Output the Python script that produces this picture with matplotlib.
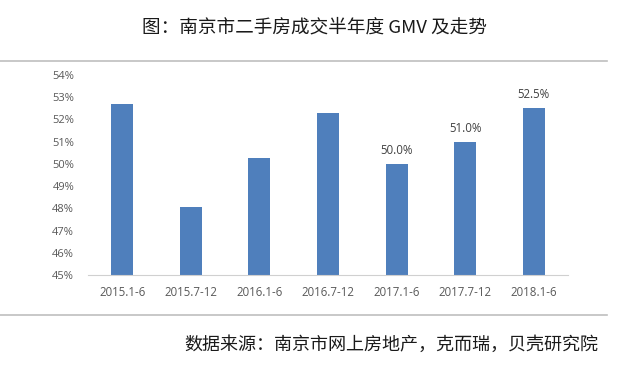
import matplotlib
matplotlib.use('Agg')
import matplotlib.pyplot as plt
from matplotlib.lines import Line2D

plt.rcParams['font.family'] = ['Noto Sans CJK SC', 'DejaVu Sans']

periods = ['2015.1-6', '2015.7-12', '2016.1-6', '2016.7-12', '2017.1-6', '2017.7-12', '2018.1-6']
share = [52.7, 48.05, 50.27, 52.3, 50.0, 51.0, 52.5]
labelled = [False, False, False, False, True, True, True]
yticks = list(range(45, 55))

num_font = ['Open Sans', 'DejaVu Sans']

fig = plt.figure(figsize=(6.25, 3.71), dpi=100)
ax = fig.add_axes([0.1408, 0.2588, 0.768, 0.539])

x = range(len(periods))
ax.bar(x, share, width=0.32, bottom=0, color='#4f7fbc', zorder=2)
ax.set_xlim(-0.5, len(periods) - 0.5)
ax.set_ylim(45, 54)
ax.set_yticks(yticks)
ax.set_yticklabels(['%d%%' % v for v in yticks], family=num_font)
ax.set_xticks(list(x))
ax.set_xticklabels(periods, family=num_font)
ax.tick_params(axis='both', length=0, colors='#595959')
ax.tick_params(axis='x', pad=8, labelsize=8.3)
ax.tick_params(axis='y', pad=10, labelsize=8)
for s in ['top', 'right', 'left']:
    ax.spines[s].set_visible(False)
ax.spines['bottom'].set_color('#d0d0d0')

for i, (v, show) in enumerate(zip(share, labelled)):
    if show:
        ax.annotate('%.1f%%' % v, (i, v), xytext=(0, 5), textcoords='offset points',
                    ha='center', va='bottom', fontsize=8.3, color='#404040',
                    family=num_font)

fig.text(0.504, 0.927, '图：南京市二手房成交半年度 GMV 及走势', ha='center', va='center',
         fontsize=13.4, color='#1a1a1a')
fig.add_artist(Line2D([0, 0.971], [0.836, 0.836], color='#bfbfbf', lw=1.2))
fig.add_artist(Line2D([0, 0.971], [0.151, 0.151], color='#bfbfbf', lw=1.2))
fig.text(0.958, 0.07, '数据来源：南京市网上房地产，克而瑞，贝壳研究院', ha='right', va='center',
         fontsize=13, color='#1a1a1a')

fig.savefig('out.png', dpi=100, facecolor='white')
